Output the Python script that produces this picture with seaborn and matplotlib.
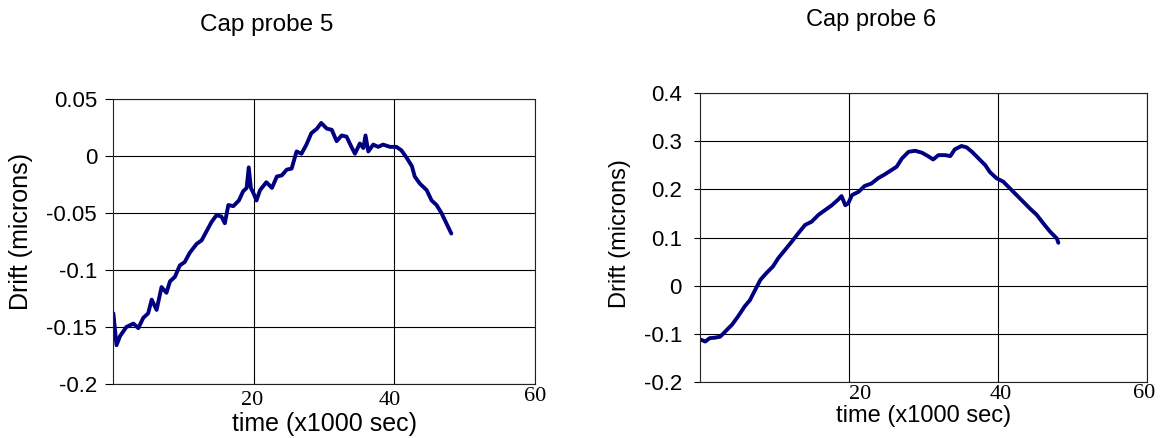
import numpy as np
import pandas as pd
import matplotlib
matplotlib.use("Agg")
import matplotlib.pyplot as plt
import matplotlib.transforms as mtransforms
import seaborn as sns

#### DATA

# Cap probe 5
t5 = [0.05, 0.5, 1.0, 1.9, 2.9, 3.6, 4.3, 5.0, 5.5, 6.2, 6.9, 7.6, 8.1, 8.8, 9.5, 10.2,
      10.9, 11.9, 12.6, 13.3, 14.0, 14.7, 15.4, 15.9, 16.4, 17.1, 17.9, 18.5, 19.0, 19.3,
      19.6, 20.0, 20.4, 20.9, 21.8, 22.6, 23.3, 24.0, 24.7, 25.4, 26.1, 26.8, 27.5, 28.2,
      29.0, 29.6, 30.4, 31.1, 31.8, 32.5, 33.2, 33.9, 34.4, 35.1, 35.6, 35.9, 36.3, 37.0,
      37.7, 38.4, 39.4, 40.3, 41.0, 41.8, 42.5, 42.9, 43.6, 44.6, 45.3, 46.0, 46.7, 47.4, 48.1]
drift5 = [-0.138, -0.166, -0.158, -0.150, -0.147, -0.151, -0.142, -0.138, -0.126, -0.135,
          -0.115, -0.120, -0.110, -0.106, -0.096, -0.093, -0.085, -0.077, -0.074, -0.066,
          -0.058, -0.052, -0.053, -0.059, -0.043, -0.044, -0.039, -0.031, -0.028, -0.010,
          -0.028, -0.033, -0.039, -0.030, -0.023, -0.028, -0.018, -0.017, -0.012, -0.011,
          0.004, 0.002, 0.010, 0.020, 0.024, 0.029, 0.024, 0.023, 0.013, 0.018, 0.017, 0.008,
          0.002, 0.011, 0.007, 0.018, 0.004, 0.010, 0.008, 0.010, 0.008, 0.008, 0.005, -0.002,
          -0.009, -0.018, -0.024, -0.030, -0.039, -0.043, -0.050, -0.059, -0.068]

# Cap probe 6
t6 = [0.1, 0.7, 1.3, 2.0, 2.7, 3.4, 4.3, 5.1, 6.0, 6.7, 7.4, 8.1, 8.9, 9.8, 10.5, 11.4,
      12.3, 13.2, 14.1, 15.0, 15.9, 16.8, 17.7, 18.5, 19.0, 19.5, 19.9, 20.4, 21.3, 22.1,
      23.0, 23.9, 24.8, 25.7, 26.4, 27.1, 28.0, 28.9, 29.8, 30.6, 31.3, 32.0, 32.9, 33.6,
      34.2, 35.1, 35.8, 36.5, 37.4, 38.3, 38.9, 39.8, 40.7, 41.6, 42.5, 43.4, 44.3, 45.2,
      46.1, 47.0, 47.9, 48.1]
drift6 = [-0.112, -0.116, -0.109, -0.108, -0.106, -0.095, -0.081, -0.064, -0.043, -0.030,
          -0.009, 0.012, 0.026, 0.040, 0.057, 0.074, 0.091, 0.109, 0.126, 0.133, 0.147, 0.157,
          0.167, 0.178, 0.186, 0.167, 0.171, 0.188, 0.195, 0.207, 0.212, 0.223, 0.231, 0.240,
          0.247, 0.264, 0.278, 0.280, 0.276, 0.269, 0.262, 0.271, 0.271, 0.269, 0.283, 0.290,
          0.287, 0.278, 0.264, 0.250, 0.236, 0.223, 0.216, 0.202, 0.188, 0.174, 0.160, 0.147,
          0.129, 0.112, 0.098, 0.089]

titles = ["Cap probe 5", "Cap probe 6"]
xlabel = "time (x1000 sec)"
ylabel = "Drift (microns)"

xticks = [20, 40, 60]
yticks5 = [-0.2, -0.15, -0.1, -0.05, 0, 0.05]
ylabels5 = ["-0.2", "-0.15", "-0.1", "-0.05", "0", "0.05"]
yticks6 = [-0.2, -0.1, 0, 0.1, 0.2, 0.3, 0.4]
ylabels6 = ["-0.2", "-0.1", "0", "0.1", "0.2", "0.3", "0.4"]


#### PLOT

sns.set_style("white")
plt.rcParams['font.family'] = ['Liberation Sans', 'DejaVu Sans']
plt.rcParams['text.color'] = 'black'
plt.rcParams['axes.labelcolor'] = 'black'
plt.rcParams['xtick.color'] = 'black'
plt.rcParams['ytick.color'] = 'black'

fig = plt.figure(figsize=(11.61, 4.38), dpi=100)

W, H = 1161., 438.

# axes boxes in pixels: left, top, right, bottom
box5 = [113, 99, 535, 384]
box6 = [700, 93, 1147, 382]

def make_axes(box):
    l, t, r, b = box
    return fig.add_axes([l / W, 1 - b / H, (r - l) / W, (b - t) / H])

ax5 = make_axes(box5)
ax6 = make_axes(box6)

panels = [
    dict(ax=ax5, t=t5, d=drift5, yt=yticks5, yl=ylabels5, ylim=(-0.2, 0.05),
         fs_lab=18, fs_tit=17.5, tick_len=6, tick_pad=5.5,
         title_xy=(267, 25), xlab_top=412, ylab_right=33, ylab_cy=232,
         xtl=[(-2, -4), (-5, -4), (0, 0)], box=box5),
    dict(ax=ax6, t=t6, d=drift6, yt=yticks6, yl=ylabels6, ylim=(-0.2, 0.4),
         fs_lab=17, fs_tit=17, tick_len=4.5, tick_pad=8.5,
         title_xy=(871, 20), xlab_top=405, ylab_right=631, ylab_cy=234,
         xtl=[(11, 0), (3, 0), (-3, 1)], box=box6),
]

for i, p in enumerate(panels):
    ax = p['ax']
    df = pd.DataFrame({'time': p['t'], 'drift': p['d']})
    sns.lineplot(data=df, x='time', y='drift', ax=ax, color='#000080',
                 linewidth=2.8, estimator=None, sort=False)

    ax.set_xlim(0, 60)
    ax.set_ylim(*p['ylim'])

    ax.set_xticks(xticks)
    ax.set_xticklabels([str(v) for v in xticks], fontfamily='Liberation Serif', fontsize=16)
    ax.set_yticks(p['yt'])
    ax.set_yticklabels(p['yl'], fontsize=16)

    ax.tick_params(axis='x', length=0, pad=2)
    ax.tick_params(axis='y', direction='out', length=p['tick_len'], width=0.8,
                   color='black', pad=p['tick_pad'], left=True)

    ax.grid(True, color='black', linewidth=0.8)
    for s in ax.spines.values():
        s.set_visible(True)
        s.set_color('#222222')
        s.set_linewidth(0.8)

    # per-label nudges (Excel-style uneven placement)
    for lab, (dx, dy) in zip(ax.get_xticklabels(), p['xtl']):
        off = mtransforms.ScaledTranslation(dx / 100., dy / 100., fig.dpi_scale_trans)
        lab.set_transform(lab.get_transform() + off)

    l, t, r, b = p['box']
    ax.set_xlabel(xlabel, fontsize=p['fs_lab'])
    ax.set_ylabel(ylabel, fontsize=p['fs_lab'])
    ax.xaxis.set_label_coords(0.5, (b - p['xlab_top']) / (b - t))
    ax.yaxis.set_label_coords((p['ylab_right'] - l) / (r - l), (b - p['ylab_cy']) / (b - t))

    tx, ty = p['title_xy']
    fig.text(tx / W, 1 - ty / H, titles[i], ha='center', va='center', fontsize=p['fs_tit'])

plt.savefig('out.png', dpi=100)
